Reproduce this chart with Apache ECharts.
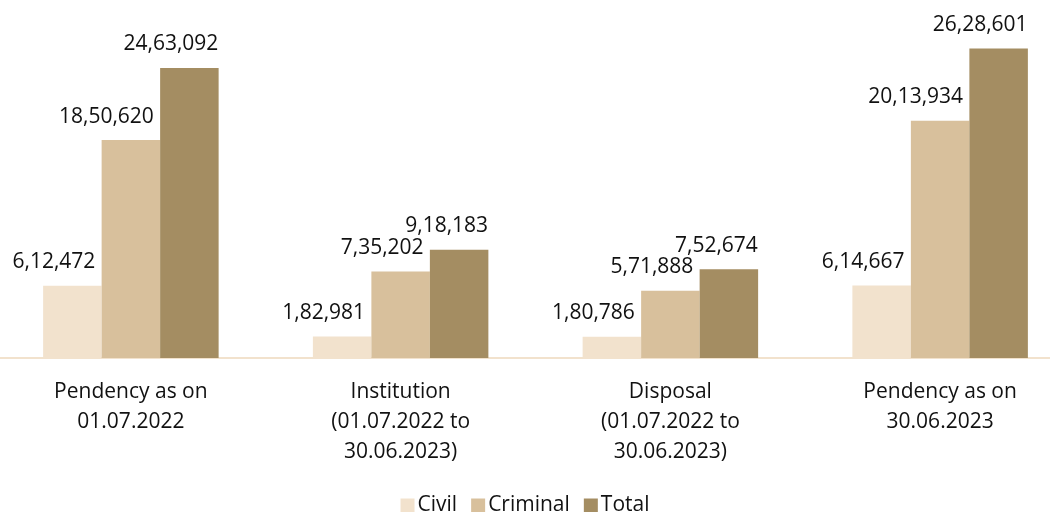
<!DOCTYPE html>
<html><head><meta charset="utf-8">
<script src="https://cdn.jsdelivr.net/npm/echarts@6/dist/echarts.min.js"></script>
<style>html,body{margin:0;padding:0;background:#fff}#c{width:1050px;height:512px}</style>
</head><body><div id="c"></div>
<script>
const categories = ["Pendency as on\n01.07.2022", "Institution\n(01.07.2022 to\n30.06.2023)", "Disposal\n(01.07.2022 to\n30.06.2023)", "Pendency as on\n30.06.2023"];
const seriesNames = ["Civil", "Criminal", "Total"];
const civil = [612472, 182981, 180786, 614667];
const criminal = [1850620, 735202, 571888, 2013934];
const total = [2463092, 918183, 752674, 2628601];

function indian(n){
  const s = String(Math.round(n));
  if (s.length <= 3) return s;
  const last3 = s.slice(-3);
  let rest = s.slice(0, -3);
  const parts = [];
  while (rest.length > 2){ parts.unshift(rest.slice(-2)); rest = rest.slice(0,-2); }
  if (rest) parts.unshift(rest);
  return parts.join(',') + ',' + last3;
}
const FONT = "'Open Sans', sans-serif";
const colors = ['#F2E2CD', '#D8C09C', '#A48D62'];
const labelOffsets = [23, 23, 29];
const chart = echarts.init(document.getElementById('c'));
const dataSets = [civil, criminal, total];
chart.setOption({
  animation: false,
  textStyle: {fontFamily: FONT},
  grid: {left: -4, width: 1079, top: 20, height: 338, containLabel: false, outerBoundsMode: 'none'},
  legend: {
    top: 490, left: 'center', itemWidth: 14, itemHeight: 14, itemGap: 14,
    icon: 'rect',
    textStyle: {fontFamily: FONT, fontSize: 21, color: '#111', padding: [0,0,0,-2]},
    data: seriesNames
  },
  xAxis: {
    type: 'category', data: categories,
    axisLine: {show: true, lineStyle: {color: '#F2E2CD', width: 2}},
    axisTick: {show: false},
    axisLabel: {fontFamily: FONT, fontSize: 21, color: '#111', lineHeight: 30, margin: 19, interval: 0}
  },
  yAxis: {type: 'value', min: 0, max: 2870000, show: false, splitLine: {show: false}},
  series: dataSets.map((d, i) => ({
    name: seriesNames[i], type: 'bar', data: d, barWidth: 58.5, barGap: '0%',
    itemStyle: {color: colors[i]},
    label: {
      show: true, position: 'top', distance: 13, align: 'right',
      offset: [labelOffsets[i], 0],
      fontFamily: FONT, fontSize: 21, color: '#111',
      formatter: p => indian(p.value)
    }
  }))
});
</script></body></html>
